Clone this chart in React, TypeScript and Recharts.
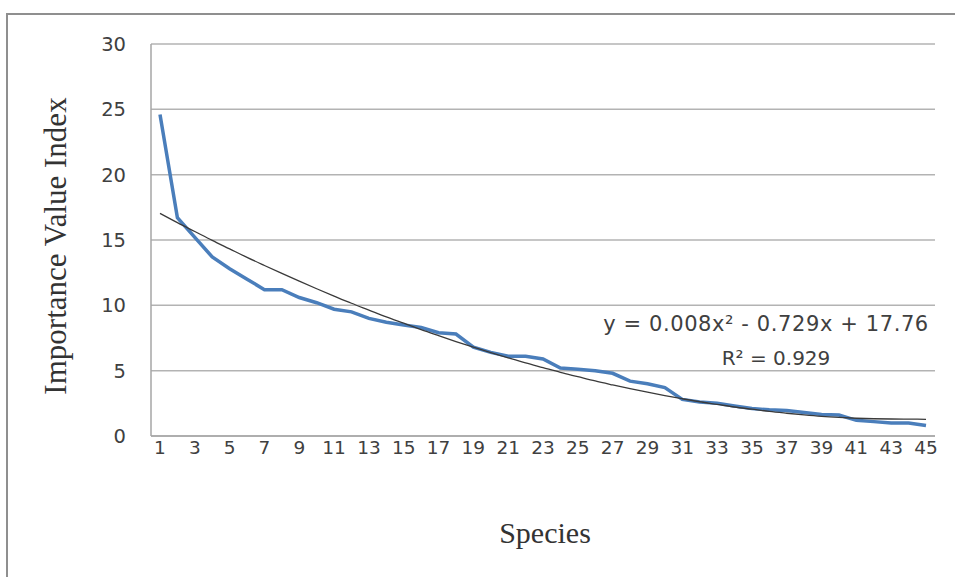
import React from "react";
import { LineChart, Line, XAxis, YAxis, CartesianGrid, Customized } from "recharts";

const species = [
  1, 2, 3, 4, 5, 6, 7, 8, 9, 10, 11, 12, 13, 14, 15, 16, 17, 18, 19, 20, 21, 22, 23,
  24, 25, 26, 27, 28, 29, 30, 31, 32, 33, 34, 35, 36, 37, 38, 39, 40, 41, 42, 43, 44, 45,
];

const ivi = [
  24.6, 16.7, 15.2, 13.7, 12.8, 12.0, 11.2, 11.2, 10.6, 10.2, 9.7, 9.5, 9.0, 8.7, 8.5,
  8.3, 7.9, 7.8, 6.8, 6.4, 6.1, 6.1, 5.9, 5.2, 5.1, 5.0, 4.8, 4.2, 4.0, 3.7, 2.8, 2.6,
  2.5, 2.3, 2.1, 2.0, 1.95, 1.8, 1.65, 1.6, 1.2, 1.1, 1.0, 1.0, 0.8,
];

const trend = [
  17.04, 16.33, 15.65, 14.97, 14.32, 13.67, 13.05, 12.44, 11.85, 11.27, 10.71, 10.16,
  9.64, 9.12, 8.63, 8.14, 7.68, 7.23, 6.8, 6.38, 5.98, 5.59, 5.23, 4.87, 4.54, 4.21,
  3.91, 3.62, 3.35, 3.09, 2.85, 2.62, 2.42, 2.22, 2.05, 1.88, 1.74, 1.61, 1.5, 1.42,
  1.36, 1.32, 1.3, 1.29, 1.28,
];

const yTicks = [0, 5, 10, 15, 20, 25, 30];

const equationText = "y = 0.008x² - 0.729x + 17.76";
const r2Text = "R² = 0.929";
const xTitle = "Species";
const yTitle = "Importance Value Index";

const data = species.map((s, i) => ({ sp: s, ivi: ivi[i], trend: trend[i] }));

const tickFont = "'DejaVu Sans', 'Open Sans', sans-serif";
const serif = "'Liberation Serif', 'Times New Roman', serif";

const Annotation = () => (
  <g>
    <text
      x={766}
      y={331}
      textAnchor="middle"
      fontFamily={tickFont}
      fontSize={21}
      letterSpacing={0.6}
      fill="#404040"
    >
      {equationText}
    </text>
    <text x={776} y={365} textAnchor="middle" fontFamily={tickFont} fontSize={20} fill="#404040">
      {r2Text}
    </text>
  </g>
);

export default function App() {
  return (
    <div
      style={{
        position: "absolute",
        left: 0,
        top: 0,
        width: 955,
        height: 577,
        overflow: "hidden",
        background: "#fff",
      }}
    >
      <div
        style={{
          position: "absolute",
          left: 6,
          top: 13,
          width: 1000,
          height: 700,
          borderLeft: "2px solid #8f8f8f",
          borderTop: "2px solid #8f8f8f",
        }}
      />
      <div style={{ position: "absolute", left: 0, top: 0 }}>
        <LineChart
          width={955}
          height={577}
          data={data}
          margin={{ top: 44, right: 20, bottom: 111, left: 0 }}
        >
          <CartesianGrid vertical={false} stroke="#b3b3b3" strokeWidth={1.5} />
          <XAxis
            dataKey="sp"
            type="category"
            interval={1}
            height={30}
            padding={{ left: 9, right: 9 }}
            tickSize={0}
            tickMargin={5}
            axisLine={{ stroke: "#a6a6a6", strokeWidth: 1.5 }}
            tick={{ fontFamily: tickFont, fontSize: 18.5, fill: "#404040" }}
            label={{
              content: () => (
                <text x={545} y={543} textAnchor="middle" fontFamily={serif} fontSize={30} fill="#333">
                  {xTitle}
                </text>
              ),
            }}
          />
          <YAxis
            width={151}
            domain={[0, 30]}
            ticks={yTicks}
            tickSize={0}
            tickMargin={25}
            axisLine={{ stroke: "#a6a6a6", strokeWidth: 1.5 }}
            tick={{ fontFamily: tickFont, fontSize: 19.5, fill: "#404040" }}
            label={{
              content: () => (
                <text
                  x={66}
                  y={246}
                  transform="rotate(-90 66 246)"
                  textAnchor="middle"
                  fontFamily={serif}
                  fontSize={31}
                  fill="#333"
                >
                  {yTitle}
                </text>
              ),
            }}
          />
          <Line
            dataKey="ivi"
            stroke="#4a7ebb"
            strokeWidth={3.5}
            dot={false}
            isAnimationActive={false}
            type="linear"
          />
          <Line
            dataKey="trend"
            stroke="#3a3a3a"
            strokeWidth={1.3}
            dot={false}
            isAnimationActive={false}
            type="monotone"
          />
          <Customized component={Annotation} />
        </LineChart>
      </div>
    </div>
  );
}
